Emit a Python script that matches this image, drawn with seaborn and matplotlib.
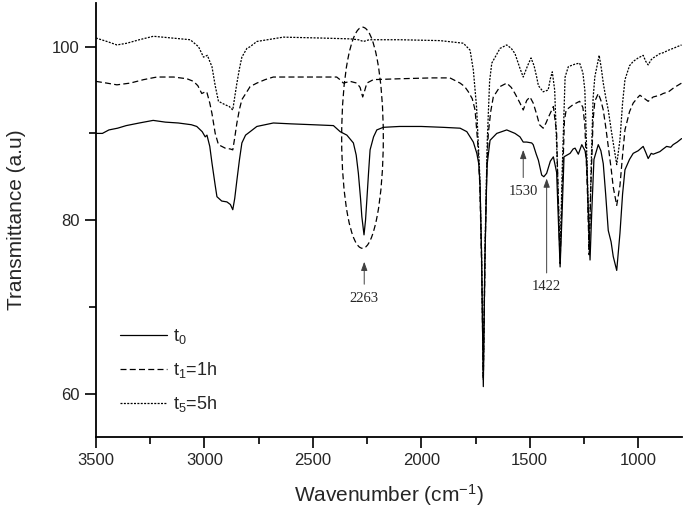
import matplotlib
matplotlib.use('Agg')
import matplotlib.pyplot as plt
import seaborn as sns
from matplotlib.patches import Ellipse
from matplotlib.ticker import MultipleLocator

# spectra (wavenumber cm-1, transmittance a.u)
wn_t0 = [3500, 3470, 3440, 3400, 3360, 3300, 3236, 3180, 3120, 3060, 3035, 3010, 2996, 2988,
         2975, 2965, 2950, 2942, 2920, 2896, 2880, 2869, 2860, 2850, 2838, 2827, 2810, 2789,
         2758, 2720, 2682, 2600, 2500, 2405, 2374, 2343, 2313, 2300, 2290, 2280, 2274, 2264,
         2257, 2251, 2243, 2236, 2220, 2205, 2175, 2100, 2000, 1900, 1821, 1790, 1775, 1760,
         1744, 1735, 1729, 1722, 1714, 1707, 1700, 1696, 1683, 1652, 1606, 1568, 1545, 1530,
         1514, 1491, 1484, 1470, 1460, 1445, 1435, 1422, 1405, 1391, 1376, 1368, 1360, 1352,
         1342, 1314, 1300, 1291, 1276, 1260, 1245, 1237, 1230, 1222, 1214, 1204, 1184, 1172,
         1161, 1150, 1138, 1125, 1115, 1099, 1084, 1072, 1061, 1040, 1023, 1000, 977, 965,
         954, 940, 931, 900, 885, 869, 850, 839, 820, 800]
tr_t0 = [90.0, 90.0, 90.4, 90.6, 90.9, 91.2, 91.5, 91.3, 91.2, 91.0, 90.8, 90.2, 89.6, 89.8,
         88.5, 86.6, 84.0, 82.7, 82.2, 82.1, 81.8, 81.2, 82.5, 84.6, 87.0, 88.9, 89.8, 90.2,
         90.8, 91.0, 91.2, 91.1, 91.0, 90.9, 90.2, 89.8, 88.9, 87.5, 85.4, 82.5, 80.4, 78.3,
         80.0, 82.3, 85.5, 88.1, 89.6, 90.4, 90.7, 90.8, 90.8, 90.7, 90.6, 90.2, 89.6, 89.0,
         87.7, 86.5, 84.0, 76.0, 60.8, 75.0, 83.0, 86.5, 89.2, 90.0, 90.4, 90.0, 89.6, 89.0,
         89.0, 88.9, 88.7, 87.6, 86.9, 85.2, 85.0, 85.4, 86.8, 87.3, 85.5, 80.0, 74.6, 80.0,
         87.3, 87.7, 88.2, 88.3, 87.6, 88.7, 88.0, 86.7, 81.0, 75.4, 81.0, 87.0, 88.7, 88.0,
         86.5, 83.0, 78.8, 77.5, 75.8, 74.2, 78.5, 83.0, 85.8, 87.0, 87.7, 88.0, 88.5, 87.8,
         87.1, 87.7, 87.6, 87.9, 88.2, 88.5, 88.4, 88.7, 89.0, 89.4]

wn_t1 = [3500, 3450, 3403, 3342, 3280, 3219, 3142, 3080, 3050, 3030, 3012, 2995, 2989, 2975,
         2965, 2950, 2935, 2904, 2880, 2869, 2860, 2850, 2838, 2827, 2804, 2789, 2758, 2720,
         2682, 2550, 2390, 2375, 2359, 2328, 2297, 2282, 2270, 2260, 2251, 2221, 2100, 1950,
         1868, 1821, 1800, 1783, 1765, 1752, 1740, 1730, 1722, 1714, 1706, 1698, 1691, 1680,
         1668, 1637, 1606, 1585, 1568, 1545, 1530, 1514, 1499, 1484, 1468, 1455, 1438, 1425,
         1415, 1391, 1376, 1368, 1360, 1352, 1340, 1332, 1301, 1270, 1255, 1246, 1235, 1226,
         1218, 1208, 1200, 1184, 1172, 1161, 1150, 1138, 1125, 1115, 1099, 1084, 1072, 1061,
         1040, 1023, 1000, 992, 970, 954, 940, 931, 900, 885, 860, 839, 820, 800]
tr_t1 = [96.0, 95.8, 95.6, 95.8, 96.2, 96.5, 96.5, 96.3, 96.0, 95.5, 94.6, 94.8, 94.8, 93.5,
         92.3, 90.0, 88.7, 88.3, 88.2, 88.1, 89.5, 91.2, 92.8, 93.9, 94.8, 95.4, 95.8, 96.2,
         96.5, 96.5, 96.5, 96.2, 95.8, 96.0, 95.8, 95.3, 94.2, 95.0, 95.8, 96.2, 96.3, 96.4,
         96.4, 95.8, 95.4, 94.8, 94.0, 92.7, 89.0, 84.0, 75.0, 61.5, 76.0, 86.0, 90.0, 92.5,
         94.2, 95.4, 95.8, 95.3, 94.6, 93.5, 92.7, 93.8, 94.2, 93.5, 92.2, 91.0, 90.6, 91.2,
         91.8, 93.1, 90.0, 82.0, 75.0, 82.0, 91.5, 92.7, 93.3, 93.7, 93.0, 91.0, 84.0, 76.0,
         84.0, 91.5, 93.7, 94.6, 93.8, 92.7, 90.8, 88.5, 86.0, 83.8, 81.7, 84.0, 87.5, 90.4,
         92.5, 93.5, 94.2, 94.4, 94.0, 93.7, 94.0, 94.2, 94.4, 94.6, 94.8, 95.2, 95.5, 95.8]

wn_t5 = [3500, 3449, 3403, 3357, 3300, 3235, 3150, 3065, 3027, 3004, 2986, 2975, 2965, 2950,
         2935, 2904, 2885, 2869, 2860, 2850, 2838, 2827, 2804, 2789, 2758, 2636, 2466, 2328,
         2290, 2267, 2240, 2190, 2098, 1914, 1806, 1775, 1760, 1745, 1730, 1722, 1714, 1706,
         1696, 1685, 1675, 1637, 1606, 1585, 1568, 1545, 1530, 1510, 1494, 1480, 1468, 1460,
         1438, 1415, 1405, 1396, 1385, 1375, 1360, 1350, 1337, 1322, 1290, 1270, 1255, 1246,
         1235, 1226, 1217, 1208, 1200, 1180, 1170, 1161, 1150, 1138, 1125, 1115, 1099, 1084,
         1072, 1061, 1040, 1023, 1000, 977, 965, 954, 940, 931, 900, 885, 860, 839, 820, 800]
tr_t5 = [101.0, 100.6, 100.2, 100.4, 100.8, 101.2, 101.0, 100.8, 100.0, 98.8, 99.0, 98.3, 97.7, 95.5,
         93.7, 93.3, 93.1, 92.7, 94.2, 95.8, 97.5, 98.8, 99.8, 100.0, 100.6, 101.1, 101.0, 100.9,
         100.8, 100.6, 100.8, 100.8, 100.8, 100.7, 100.4, 99.6, 97.3, 93.0, 85.0, 76.0, 62.0, 77.0,
         89.0, 96.0, 98.1, 99.8, 100.2, 99.8, 99.2, 97.5, 96.5, 97.8, 98.7, 97.8, 96.5, 95.5,
         94.8, 95.0, 96.3, 97.1, 95.0, 88.0, 76.0, 86.0, 96.5, 97.7, 98.0, 98.1, 97.0, 95.0,
         86.0, 76.5, 86.0, 94.0, 96.5, 99.0, 97.5, 95.8, 94.2, 92.7, 90.5, 88.9, 86.4, 89.3,
         93.5, 96.2, 97.8, 98.3, 98.7, 99.0, 98.3, 97.9, 98.5, 98.7, 99.2, 99.3, 99.6, 99.8,
         100.0, 100.2]

series_labels = ['t$_0$', 't$_1$=1h', 't$_5$=5h']
peak_labels = ['2263', '1530', '1422']
peak_tips = [75.2, 88.1, 84.8]
peak_texts = [71.0, 83.3, 72.3]

sns.set_style('ticks')
plt.rcParams['font.family'] = ['Liberation Sans', 'DejaVu Sans']
plt.rcParams['mathtext.fontset'] = 'custom'
plt.rcParams['mathtext.rm'] = 'Liberation Sans'
plt.rcParams['mathtext.it'] = 'Liberation Sans:italic'

fig, ax = plt.subplots(figsize=(6.85, 5.11), dpi=100)
fig.subplots_adjust(left=0.14, right=0.995, bottom=0.145, top=0.9935)

styles = ['-', (0, (4.8, 2.6)), (0, (1.6, 1.1))]
data = [(wn_t0, tr_t0), (wn_t1, tr_t1), (wn_t5, tr_t5)]
for (wn, tr), ls, lab in zip(data, styles, series_labels):
    sns.lineplot(x=wn, y=tr, ax=ax, color='black', lw=0.9, linestyle=ls,
                 sort=False, estimator=None, label=lab)

# dashed ellipse around the 2263 band
ax.add_patch(Ellipse((2271, 89.5), width=192, height=25.5, fill=False,
                     ec='black', lw=0.9, ls=(0, (4.8, 2.6))))

for lab, tip, txt in zip(peak_labels, peak_tips, peak_texts):
    x = float(lab)
    ax.annotate(lab, xy=(x, tip), xytext=(x, txt), ha='center', va='center',
                fontsize=10.5, family='Liberation Serif',
                arrowprops=dict(arrowstyle='-|>,head_length=0.5,head_width=0.18',
                                color='0.25', lw=0.7, shrinkA=3, shrinkB=0))

ax.set_xlim(3500, 800)
ax.set_ylim(55, 105)
ax.xaxis.set_major_locator(MultipleLocator(500))
ax.xaxis.set_minor_locator(MultipleLocator(250))
ax.yaxis.set_major_locator(MultipleLocator(20))
ax.yaxis.set_minor_locator(MultipleLocator(10))
ax.tick_params(which='major', direction='out', length=8, width=1.2, labelsize=12, color='black')
ax.tick_params(which='minor', direction='out', length=5, width=1.2, color='black')
for s in ['left', 'bottom']:
    ax.spines[s].set_linewidth(1.3)
    ax.spines[s].set_color('black')
sns.despine(ax=ax)

ax.set_xlabel('Wavenumber (cm$^{-1}$)', fontsize=15, labelpad=10)
ax.set_ylabel('Transmittance (a.u)', fontsize=15, labelpad=19)

ax.legend(loc='lower left', bbox_to_anchor=(0.014, 0.015), frameon=False, fontsize=13,
          handlelength=2.6, labelspacing=0.77, handletextpad=0.3)

fig.savefig('out.png', dpi=100)
